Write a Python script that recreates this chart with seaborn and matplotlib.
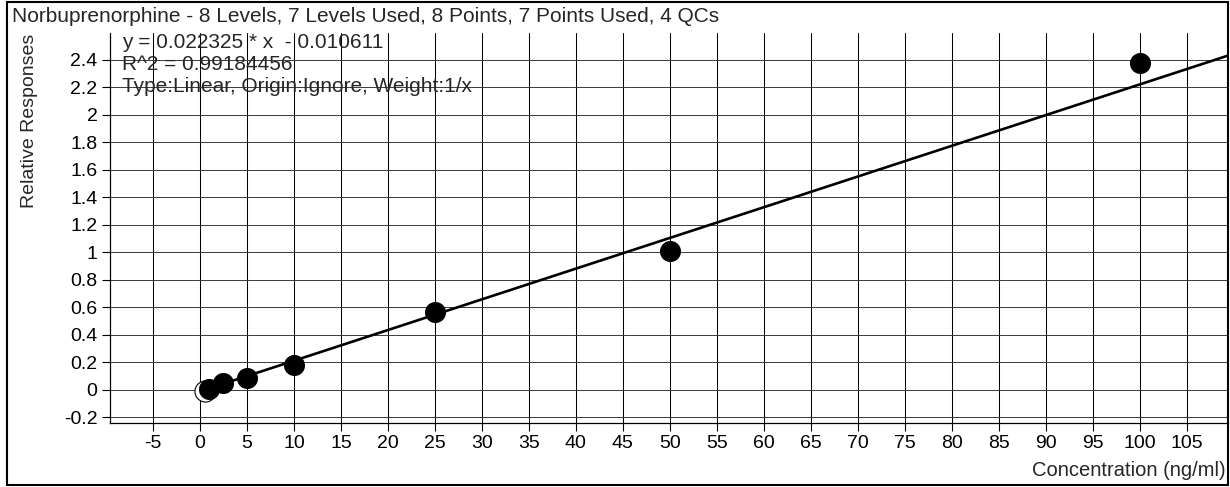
import matplotlib
matplotlib.use("Agg")
import matplotlib.pyplot as plt
import seaborn as sns
import pandas as pd
from matplotlib.patches import Rectangle

sns.set_style("white")
plt.rcParams["font.family"] = ["Liberation Sans", "DejaVu Sans"]

# calibration levels used in the fit
conc_used = [1, 2.5, 5, 10, 25, 50, 100]
resp_used = [0.01, 0.05, 0.085, 0.18, 0.57, 1.01, 2.375]
# excluded calibration point
conc_excluded = [0.5]
resp_excluded = [-0.01]

slope = 0.022325
intercept = -0.010611
r_squared = 0.99184456
fit_x = [0.5, 109.4]

x_ticks = list(range(-5, 106, 5))
y_ticks = [-0.2, 0, 0.2, 0.4, 0.6, 0.8, 1, 1.2, 1.4, 1.6, 1.8, 2, 2.2, 2.4]

title = "Norbuprenorphine - 8 Levels, 7 Levels Used, 8 Points, 7 Points Used, 4 QCs"
x_label = "Concentration (ng/ml)"
y_label = "Relative Responses"

used = pd.DataFrame({"conc": conc_used, "resp": resp_used})
excluded = pd.DataFrame({"conc": conc_excluded, "resp": resp_excluded})
fit = pd.DataFrame({"conc": fit_x, "resp": [slope * x + intercept for x in fit_x]})

W, H = 1230, 487
fig = plt.figure(figsize=(W / 100, H / 100), dpi=100)
ax = fig.add_axes([110 / W, 1 - 423 / H, 1118 / W, (423 - 33) / H])

# grid
for xv in x_ticks:
    ax.axvline(xv, color="black", lw=0.75, zorder=1)
for yv in y_ticks:
    ax.axhline(yv, color="#3a3a3a", lw=0.7, zorder=1)

sns.scatterplot(data=excluded, x="conc", y="resp", ax=ax, s=230,
                facecolor="white", edgecolor="black", linewidth=0.8, zorder=2)
sns.lineplot(data=fit, x="conc", y="resp", ax=ax, color="black", lw=1.9,
             zorder=3)
sns.scatterplot(data=used, x="conc", y="resp", ax=ax, s=230,
                color="black", edgecolor="black", linewidth=0, zorder=4)

ax.set_xlim(-9.57, 109.4)
ax.set_ylim(-0.24, 2.596)
ax.set_xticks(x_ticks)
ax.set_xticklabels([str(v) for v in x_ticks])
ax.set_yticks(y_ticks)
ax.set_yticklabels([f"{v:g}" for v in y_ticks])
ax.tick_params(axis="both", direction="out", length=6, width=0.8,
               colors="black", labelsize=14, pad=3, bottom=True, left=True)
ax.set_xlabel("")
ax.set_ylabel("")

for side in ["top", "right"]:
    ax.spines[side].set_visible(False)
for side in ["left", "bottom"]:
    ax.spines[side].set_color("black")
    ax.spines[side].set_linewidth(0.9)

# fit summary text
fs = 15
ax.text(122 / W, 1 - 42 / H, f"y = {slope:.6f} * x  - {abs(intercept):.6f}",
        transform=fig.transFigure, ha="left", va="center", fontsize=fs, zorder=5)
ax.text(122 / W, 1 - 64 / H, f"R^2 = {r_squared:.8f}",
        transform=fig.transFigure, ha="left", va="center", fontsize=fs, zorder=5)
ax.text(122 / W, 1 - 87 / H, "Type:Linear, Origin:Ignore, Weight:1/x",
        transform=fig.transFigure, ha="left", va="center", fontsize=fs, zorder=5)

fig.text(12 / W, 1 - 17 / H, title, ha="left", va="center", fontsize=15)
fig.text(30 / W, 1 - 121 / H, y_label, ha="center", va="center",
         rotation=90, fontsize=14)
fig.text(1226 / W, 1 - 470 / H, x_label, ha="right", va="center", fontsize=14.5)

# outer frame
fig.patches.append(Rectangle((7 / W, 1 - 485 / H), 1221 / W, 483 / H,
                             transform=fig.transFigure, fill=False,
                             edgecolor="black", lw=1.5))

fig.savefig("out.png", dpi=100)
